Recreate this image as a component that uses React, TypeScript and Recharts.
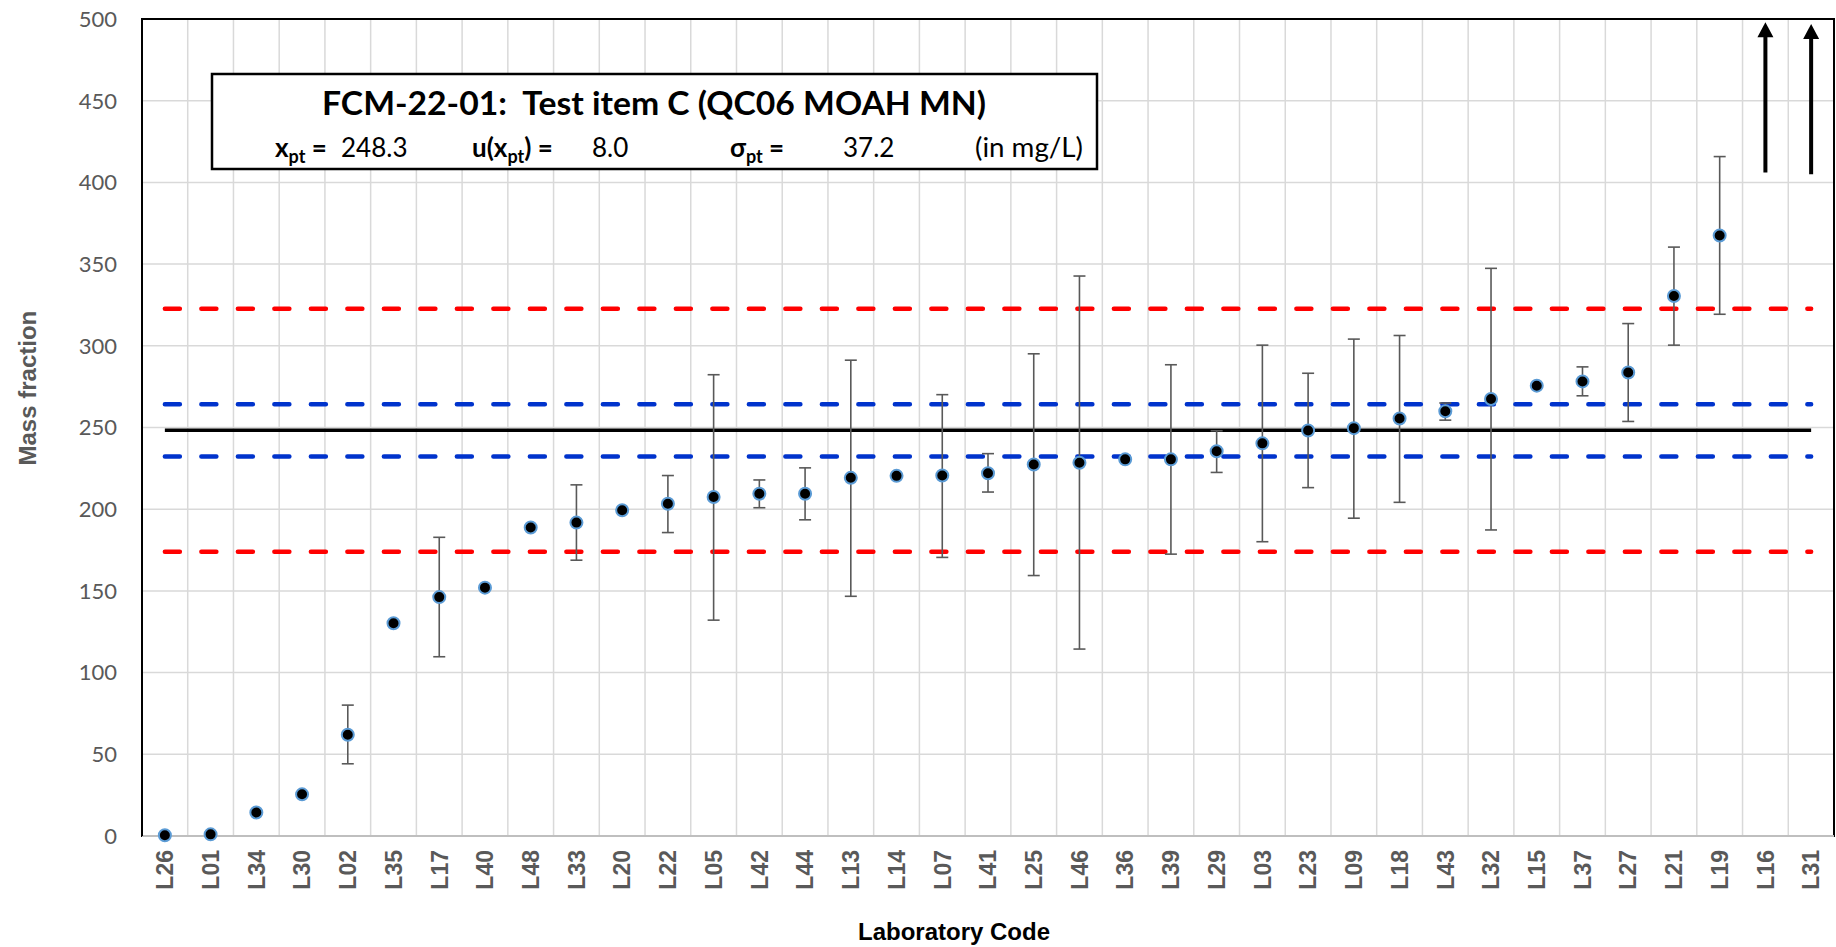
import {
  CartesianGrid,
  ComposedChart,
  ErrorBar,
  Line,
  ReferenceArea,
  ReferenceLine,
  XAxis,
  YAxis,
} from 'recharts'

const W = 1836
const H = 947

// laboratories, ordered by result
const LABS = [
  'L26', 'L01', 'L34', 'L30', 'L02', 'L35', 'L17', 'L40', 'L48', 'L33',
  'L20', 'L22', 'L05', 'L42', 'L44', 'L13', 'L14', 'L07', 'L41', 'L25',
  'L46', 'L36', 'L39', 'L29', 'L03', 'L23', 'L09', 'L18', 'L43', 'L32',
  'L15', 'L37', 'L27', 'L21', 'L19', 'L16', 'L31',
]

// reported mass fraction (mg/L); null = off scale
const VALUES = [
  0.5, 1, 14.4, 25.5, 62.0, 130.2, 146.2, 152.0, 188.8, 191.8,
  199.4, 203.3, 207.5, 209.5, 209.5, 219.2, 220.4, 220.6, 222.0, 227.4,
  228.4, 230.5, 230.5, 235.5, 240.3, 248.2, 249.6, 255.5, 259.9, 267.4,
  275.6, 278.2, 283.7, 330.5, 367.5, null, null,
]

// expanded uncertainty limits; null = not reported
const ERR_LOW = [
  null, null, null, null, 44.2, null, 109.7, null, null, 168.8,
  null, 185.7, 132.1, 200.9, 193.5, 146.7, null, 170.5, 210.5, 159.4,
  114.4, null, 172.5, 222.5, 180.1, 213.2, 194.5, 204.2, 254.5, 187.3,
  null, 269.4, 253.7, 300.4, 319.3, null, null,
]
const ERR_HIGH = [
  null, null, null, null, 80.1, null, 182.8, null, null, 214.9,
  null, 220.6, 282.3, 217.9, 225.3, 291.2, null, 270.1, 234.0, 295.1,
  342.7, null, 288.4, 248.0, 300.4, 283.2, 304.1, 306.3, 265.0, 347.4,
  null, 287.1, 313.6, 360.4, 415.8, null, null,
]

// off-scale results shown as arrows
const ARROW_LABS = ['L16', 'L31']
const ARROW_FROM = [406, 405]
const ARROW_TO = [498, 497]

const XPT = 248.3
const U_XPT = 8.0
const SIGMA_PT = 37.2
const UPPER_RED = 322.7
const LOWER_RED = 173.9
const UPPER_BLUE = 264.3
const LOWER_BLUE = 232.3

const Y_TICKS = [0, 50, 100, 150, 200, 250, 300, 350, 400, 450, 500]

const data = LABS.map((lab, i) => ({
  lab,
  value: VALUES[i],
  low: ERR_LOW[i],
  high: ERR_HIGH[i],
}))

type Row = (typeof data)[number]

const GRID = '#d9d9d9'
const AXIS_TEXT = '#595959'
const ARIAL = "'Liberation Sans', Arial, sans-serif"
const CALIBRI = "Lato, 'Open Sans', sans-serif"

function XTick({ x, y, payload }: any) {
  return (
    <text
      x={x}
      y={y}
      dy="0.36em"
      textAnchor="end"
      transform={`rotate(-90, ${x}, ${y})`}
      fontFamily={ARIAL}
      fontWeight="bold"
      fontSize={23}
      fill={AXIS_TEXT}
    >
      {payload.value}
    </text>
  )
}

function Arrow(props: any) {
  const { x1, y1, x2, y2 } = props
  const head = 15
  return (
    <g>
      <line x1={x1} y1={y1} x2={x2} y2={y2 + head - 1} stroke="#000" strokeWidth={4} />
      <polygon points={`${x2},${y2} ${x2 - 8},${y2 + head} ${x2 + 8},${y2 + head}`} fill="#000" />
    </g>
  )
}

function errorOf(d: Row) {
  if (d.low == null || d.high == null || d.value == null) return undefined
  return [d.value - d.low, d.high - d.value]
}

function InfoBox() {
  const subSize = 18
  const subDy = 6
  const fs = 26
  return (
    <svg
      width={W}
      height={H}
      style={{ position: 'absolute', left: 0, top: 0, pointerEvents: 'none' }}
    >
      <rect x={212} y={74} width={885} height={95} fill="#fff" stroke="#000" strokeWidth={2.5} />
      <g fontFamily={CALIBRI} fill="#000">
        <text x={322} y={115} fontSize={32} fontWeight="bold" textLength={664} lengthAdjust="spacingAndGlyphs">
          {'FCM-22-01:\u00A0 Test item C (QC06 MOAH MN)'}
        </text>
        <text x={275} y={157} fontSize={fs} fontWeight="bold">
          x<tspan fontSize={subSize} dy={subDy}>pt</tspan>
          <tspan dy={-subDy}>{'\u00A0='}</tspan>
        </text>
        <text x={341} y={157} fontSize={fs}>{XPT.toFixed(1)}</text>
        <text x={472} y={157} fontSize={fs} fontWeight="bold">
          u(x<tspan fontSize={subSize} dy={subDy}>pt</tspan>
          <tspan dy={-subDy}>{')\u00A0='}</tspan>
        </text>
        <text x={592} y={157} fontSize={fs}>{U_XPT.toFixed(1)}</text>
        <text x={730} y={157} fontSize={fs} fontWeight="bold">
          σ<tspan fontSize={subSize} dy={subDy}>pt</tspan>
          <tspan dy={-subDy}>{'\u00A0='}</tspan>
        </text>
        <text x={843} y={157} fontSize={fs}>{SIGMA_PT.toFixed(1)}</text>
        <text x={975} y={157} fontSize={fs} textLength={108} lengthAdjust="spacingAndGlyphs">
          (in mg/L)
        </text>
      </g>
    </svg>
  )
}

export default function App() {
  return (
    <div style={{ position: 'absolute', left: 0, top: 0, width: W, height: H, background: '#fff' }}>
      <ComposedChart
        width={W}
        height={H}
        data={data}
        margin={{ top: 19, right: 2, bottom: 0, left: 0 }}
      >
        <CartesianGrid
          stroke={GRID}
          strokeWidth={1.5}
          verticalCoordinatesGenerator={({ offset }: any) => {
            const left = offset?.left ?? 142
            const w = offset?.width ?? 1692
            return LABS.map((_, i) => left + (i * w) / LABS.length)
          }}
        />
        <XAxis
          dataKey="lab"
          scale="band"
          interval={0}
          height={111}
          tickSize={0}
          tickMargin={14}
          tick={<XTick />}
          tickLine={false}
          axisLine={{ stroke: '#bfbfbf', strokeWidth: 2 }}
          label={{
            value: 'Laboratory Code',
            position: 'insideBottom',
            offset: 7,
            dx: -34,
            fontFamily: ARIAL,
            fontWeight: 'bold',
            fontSize: 24,
            fill: '#000',
          }}
        />
        <YAxis
          domain={[0, 500]}
          ticks={Y_TICKS}
          width={142}
          tickSize={0}
          tickMargin={25}
          tickLine={false}
          axisLine={{ stroke: '#000', strokeWidth: 2 }}
          tick={{ fontFamily: CALIBRI, fontSize: 22, fill: AXIS_TEXT }}
          label={{
            value: 'Mass fraction',
            angle: -90,
            position: 'insideLeft',
            offset: 0,
            dx: 27,
            dy: 38,
            fontFamily: ARIAL,
            fontWeight: 'bold',
            fontSize: 24,
            fill: AXIS_TEXT,
          }}
        />
        <ReferenceArea y1={0} y2={500} fill="none" stroke="#000" strokeWidth={2} ifOverflow="visible" />

        <Line dataKey={() => UPPER_RED} stroke="#ff0000" strokeWidth={4.5} strokeDasharray="15 21.5" strokeLinecap="round" dot={false} activeDot={false} isAnimationActive={false} />
        <Line dataKey={() => LOWER_RED} stroke="#ff0000" strokeWidth={4.5} strokeDasharray="15 21.5" strokeLinecap="round" dot={false} activeDot={false} isAnimationActive={false} />
        <Line dataKey={() => UPPER_BLUE} stroke="#0033cc" strokeWidth={4.5} strokeDasharray="15 21.5" strokeLinecap="round" dot={false} activeDot={false} isAnimationActive={false} />
        <Line dataKey={() => LOWER_BLUE} stroke="#0033cc" strokeWidth={4.5} strokeDasharray="15 21.5" strokeLinecap="round" dot={false} activeDot={false} isAnimationActive={false} />
        <Line dataKey={() => XPT} stroke="#000" strokeWidth={3.5} dot={false} activeDot={false} isAnimationActive={false} />

        <Line
          dataKey="value"
          stroke="none"
          isAnimationActive={false}
          activeDot={false}
          dot={{ r: 6, fill: '#000', stroke: '#5b9bd5', strokeWidth: 2 }}
        >
          <ErrorBar dataKey={errorOf as any} width={6} stroke="#595959" strokeWidth={1.6} />
        </Line>

        {ARROW_LABS.map((lab, i) => (
          <ReferenceLine
            key={lab}
            segment={[
              { x: lab, y: ARROW_FROM[i] },
              { x: lab, y: ARROW_TO[i] },
            ]}
            shape={Arrow}
          />
        ))}
      </ComposedChart>
      <InfoBox />
    </div>
  )
}
